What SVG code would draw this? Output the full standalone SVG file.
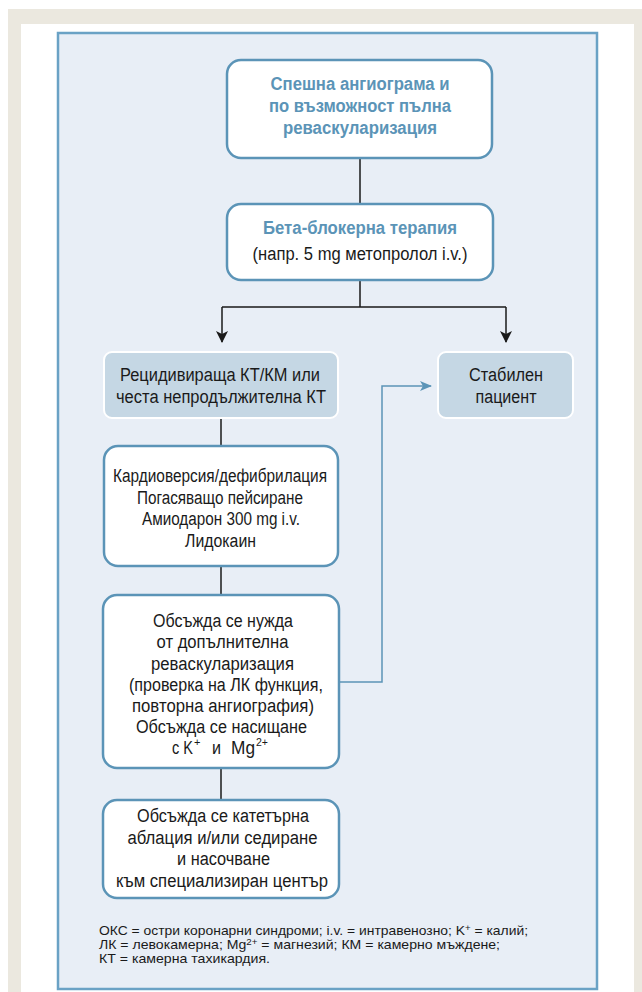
<svg xmlns="http://www.w3.org/2000/svg" width="642" height="992" viewBox="0 0 642 992">
<defs>
<style>
.bg{fill:#ffffff}
.beige{fill:#ebe8df}
.panel{fill:#e8eef6;stroke:#6aa2c5;stroke-width:2.5}
.wbox{fill:#ffffff;stroke:#5b94b7;stroke-width:2.5}
.fbox{fill:#c5d7e4;stroke:#ffffff;stroke-width:2}
.t{font-family:"Liberation Sans",Arial,sans-serif;font-size:18px;fill:#1a1a1a;text-anchor:middle}
.ts{font-family:"Liberation Sans",Arial,sans-serif;font-size:18px;fill:#1a1a1a}
.sp{font-family:"Liberation Sans",Arial,sans-serif;font-size:11px;fill:#1a1a1a}
.h{font-family:"Liberation Sans",Arial,sans-serif;font-size:18px;font-weight:bold;fill:#5b94b7;text-anchor:middle}
.fn{font-family:"Liberation Sans",Arial,sans-serif;font-size:13px;fill:#1a1a1a}
.sf{font-size:9px}
.k{fill:none;stroke:#1a1a1a;stroke-width:1.5}
.b{fill:none;stroke:#5b94b7;stroke-width:1.5}
</style>
<marker id="ak" viewBox="0 0 12 12" refX="11" refY="6" markerWidth="12" markerHeight="12" markerUnits="userSpaceOnUse" orient="auto">
<path d="M0,0 L12,6 L0,12 L3,6 z" fill="#1a1a1a"/>
</marker>
<marker id="ab" viewBox="0 0 12 12" refX="11" refY="6" markerWidth="12" markerHeight="12" markerUnits="userSpaceOnUse" orient="auto">
<path d="M0,1 L12,6 L0,11 L3,6 z" fill="#5b94b7"/>
</marker>
</defs>
<rect class="bg" x="0" y="0" width="642" height="992"/>
<rect class="beige" x="8" y="9" width="634" height="983"/>
<rect class="bg" x="21" y="24" width="613" height="968"/>
<rect class="panel" x="58" y="33" width="539" height="956"/>

<g id="connectors">
<path class="k" d="M360,158 V204"/>
<path class="k" d="M360,280 V307 M222,307 H506"/>
<path class="k" d="M222,307 V342" marker-end="url(#ak)"/>
<path class="k" d="M506,307 V342" marker-end="url(#ak)"/>
<path class="k" d="M221,418 V446"/>
<path class="k" d="M221,566 V595"/>
<path class="k" d="M221,768 V800"/>
<path class="b" d="M339,682 H382 V386 H431" marker-end="url(#ab)"/>
</g>

<g id="n1">
<rect class="wbox" x="227" y="60" width="265" height="98" rx="14"/>
<text class="h" x="360" y="90" textLength="179" lengthAdjust="spacingAndGlyphs">Спешна ангиограма и</text>
<text class="h" x="360" y="112" textLength="182" lengthAdjust="spacingAndGlyphs">по възможност пълна</text>
<text class="h" x="360" y="134" textLength="154" lengthAdjust="spacingAndGlyphs">реваскуларизация</text>
</g>

<g id="n2">
<rect class="wbox" x="227" y="204" width="266" height="76" rx="14"/>
<text class="h" x="360" y="234" textLength="194" lengthAdjust="spacingAndGlyphs">Бета-блокерна терапия</text>
<text class="t" x="360" y="260" textLength="215" lengthAdjust="spacingAndGlyphs">(напр. 5 mg метопролол i.v.)</text>
</g>

<g id="n3">
<rect class="fbox" x="104" y="352" width="234" height="66" rx="8"/>
<text class="t" x="220" y="381" textLength="200" lengthAdjust="spacingAndGlyphs">Рецидивираща КТ/КМ или</text>
<text class="t" x="221" y="403" textLength="210" lengthAdjust="spacingAndGlyphs">честа непродължителна КТ</text>
</g>

<g id="n4">
<rect class="fbox" x="438" y="352" width="135" height="66" rx="8"/>
<text class="t" x="506" y="381" textLength="74" lengthAdjust="spacingAndGlyphs">Стабилен</text>
<text class="t" x="506" y="403" textLength="61" lengthAdjust="spacingAndGlyphs">пациент</text>
</g>

<g id="n5">
<rect class="wbox" x="104" y="446" width="234" height="120" rx="14"/>
<text class="t" x="220" y="482" textLength="214" lengthAdjust="spacingAndGlyphs">Кардиоверсия/дефибрилация</text>
<text class="t" x="220" y="503.5" textLength="166" lengthAdjust="spacingAndGlyphs">Погасяващо пейсиране</text>
<text class="t" x="221" y="525" textLength="158" lengthAdjust="spacingAndGlyphs">Амиодарон 300 mg i.v.</text>
<text class="t" x="220.5" y="546.5" textLength="71" lengthAdjust="spacingAndGlyphs">Лидокаин</text>
</g>

<g id="n6">
<rect class="wbox" x="103" y="595" width="236" height="173" rx="14"/>
<text class="t" x="223" y="627" textLength="140" lengthAdjust="spacingAndGlyphs">Обсъжда се нужда</text>
<text class="t" x="222.5" y="648" textLength="132" lengthAdjust="spacingAndGlyphs">от допълнителна</text>
<text class="t" x="222.5" y="669.5" textLength="143" lengthAdjust="spacingAndGlyphs">реваскуларизация</text>
<text class="t" x="226" y="691" textLength="194" lengthAdjust="spacingAndGlyphs">(проверка на ЛК функция,</text>
<text class="t" x="223" y="712" textLength="182" lengthAdjust="spacingAndGlyphs">повторна ангиография)</text>
<text class="t" x="221.5" y="733" textLength="171" lengthAdjust="spacingAndGlyphs">Обсъжда се насищане</text>
<text class="ts" x="172" y="754" textLength="21" lengthAdjust="spacingAndGlyphs">с K</text>
<text class="sp" x="194" y="746">+</text>
<text class="ts" x="212" y="754" textLength="9" lengthAdjust="spacingAndGlyphs">и</text>
<text class="ts" x="231" y="754" textLength="24" lengthAdjust="spacingAndGlyphs">Mg</text>
<text class="sp" x="256" y="746" textLength="12" lengthAdjust="spacingAndGlyphs">2+</text>
</g>

<g id="n7">
<rect class="wbox" x="103" y="800" width="236" height="98" rx="14"/>
<text class="t" x="223" y="822" textLength="172" lengthAdjust="spacingAndGlyphs">Обсъжда се катетърна</text>
<text class="t" x="222.5" y="843.5" textLength="190" lengthAdjust="spacingAndGlyphs">аблация и/или седиране</text>
<text class="t" x="223.5" y="865" textLength="93" lengthAdjust="spacingAndGlyphs">и насочване</text>
<text class="t" x="222" y="886.5" textLength="212" lengthAdjust="spacingAndGlyphs">към специализиран център</text>
</g>

<g id="footnote">
<text class="fn" x="99" y="935" textLength="429" lengthAdjust="spacingAndGlyphs">ОКС = остри коронарни синдроми; i.v. = интравенозно; K<tspan class="sf" baseline-shift="4">+</tspan> = калий;</text>
<text class="fn" x="99" y="949" textLength="401" lengthAdjust="spacingAndGlyphs">ЛК = левокамерна; Mg<tspan class="sf" baseline-shift="4">2+</tspan> = магнезий; КМ = камерно мъждене;</text>
<text class="fn" x="99" y="963" textLength="171" lengthAdjust="spacingAndGlyphs">КТ = камерна тахикардия.</text>
</g>
</svg>
